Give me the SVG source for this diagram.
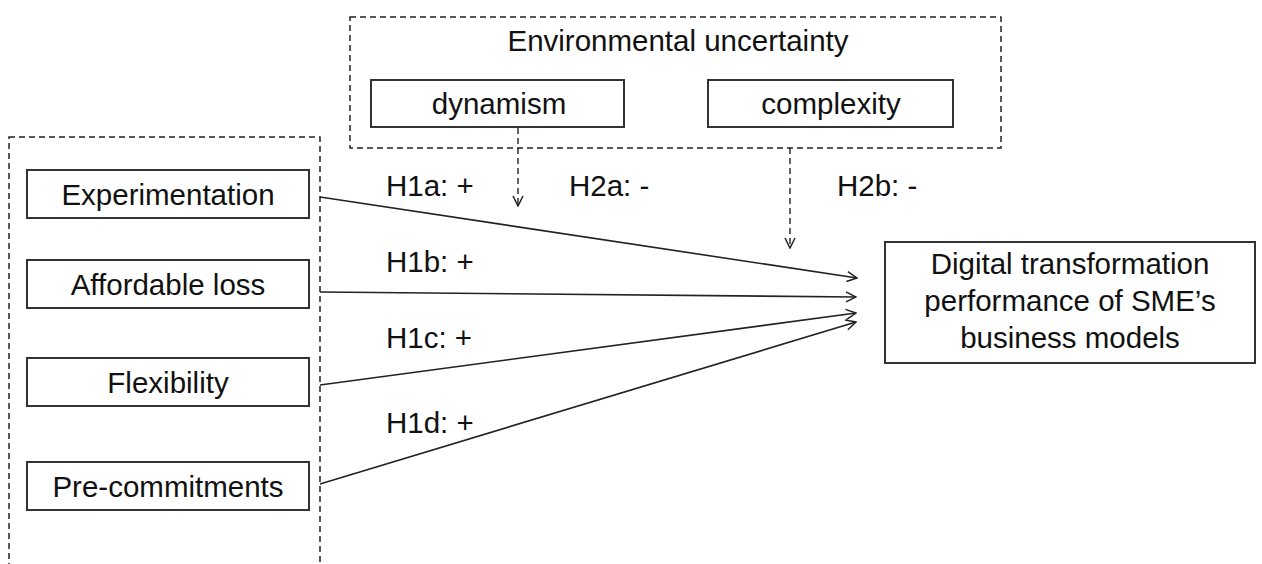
<svg xmlns="http://www.w3.org/2000/svg" width="1262" height="564" viewBox="0 0 1262 564">
<defs>
<style>
text{font-family:"Liberation Sans",Arial,sans-serif;font-size:29.5px;fill:#111;}
.c{text-anchor:middle;}
.box{fill:#fff;stroke:#333;stroke-width:2;}
.dash{fill:none;stroke:#222;stroke-width:1.5;stroke-dasharray:6,4;}
.edge{fill:none;stroke:#222;stroke-width:1.6;marker-end:url(#arr);}
.dedge{fill:none;stroke:#222;stroke-width:1.4;stroke-dasharray:6,4;marker-end:url(#arr);}
</style>
<marker id="arr" viewBox="0 0 12 12" refX="11" refY="6" markerWidth="12" markerHeight="12" markerUnits="userSpaceOnUse" orient="auto">
<path d="M1,1 L11,6 L1,11" fill="none" stroke="#222" stroke-width="1.5"/>
</marker>
</defs>
<rect id="groupL" class="dash" x="9" y="137" width="311" height="440"/>
<g id="env">
<rect class="dash" x="350" y="17" width="651" height="131"/>
<text class="c" x="678" y="51">Environmental uncertainty</text>
</g>
<g id="dynamism">
<rect class="box" x="371" y="80" width="253" height="47"/>
<text class="c" x="499" y="114">dynamism</text>
</g>
<g id="complexity">
<rect class="box" x="708" y="80" width="245" height="47"/>
<text class="c" x="831" y="114">complexity</text>
</g>
<g id="experimentation">
<rect class="box" x="27" y="170" width="282" height="48"/>
<text class="c" x="168" y="205">Experimentation</text>
</g>
<g id="affordable">
<rect class="box" x="27" y="260" width="282" height="48"/>
<text class="c" x="168" y="295">Affordable loss</text>
</g>
<g id="flexibility">
<rect class="box" x="27" y="358" width="282" height="48"/>
<text class="c" x="168" y="393">Flexibility</text>
</g>
<g id="precommit">
<rect class="box" x="27" y="462" width="282" height="48"/>
<text class="c" x="168" y="497">Pre-commitments</text>
</g>
<g id="target">
<rect class="box" x="885" y="242" width="370" height="121"/>
<text class="c" x="1070" y="274">Digital transformation</text>
<text class="c" x="1070" y="311">performance of SME’s</text>
<text class="c" x="1070" y="348">business models</text>
</g>
<g id="connectors">
<line class="edge" x1="320" y1="197" x2="857" y2="278"/>
<line class="edge" x1="320" y1="292" x2="856" y2="297"/>
<line class="edge" x1="320" y1="385" x2="856" y2="313"/>
<line class="edge" x1="320" y1="484" x2="856" y2="322"/>
<line class="dedge" x1="518" y1="128" x2="518" y2="206"/>
<line class="dedge" x1="790" y1="148" x2="790" y2="248"/>
</g>
<g id="labels">
<text x="386" y="196">H1a: +</text>
<text x="569" y="196">H2a: -</text>
<text x="837" y="196">H2b: -</text>
<text x="386" y="272">H1b: +</text>
<text x="386" y="348">H1c: +</text>
<text x="386" y="433">H1d: +</text>
</g>
</svg>
